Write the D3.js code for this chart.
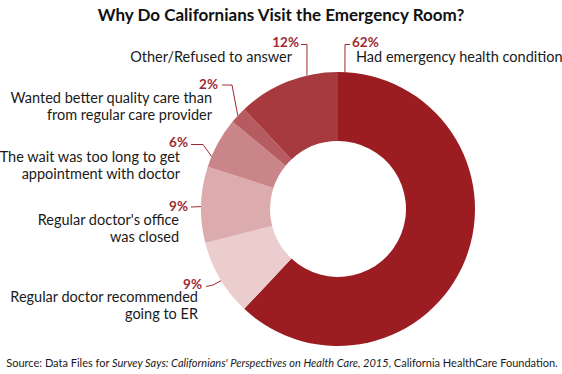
<!DOCTYPE html>
<html>
<head>
<meta charset="utf-8">
<script src="https://cdn.jsdelivr.net/npm/d3@7"></script>
<style>
  html, body { margin: 0; padding: 0; background: #fff; }
  svg text { font-family: Lato, "Open Sans", sans-serif; }
</style>
</head>
<body>
<svg id="chart" width="562" height="374"></svg>
<script>
// ---- data ----
const categories = [
  "Had emergency health condition",
  "Regular doctor recommended going to ER",
  "Regular doctor's office was closed",
  "The wait was too long to get appointment with doctor",
  "Wanted better quality care than from regular care provider",
  "Other/Refused to answer"
];
const values = [62, 9, 9, 6, 2, 12];
const labelLines = [
  ["Had emergency health condition"],
  ["Regular doctor recommended", "going to ER"],
  ["Regular doctor's office", "was closed"],
  ["The wait was too long to get", "appointment with doctor"],
  ["Wanted better quality care than", "from regular care provider"],
  ["Other/Refused to answer"]
];
const colors = ["#9b1c21", "#ebcdce", "#dcabad", "#c98588", "#b65b5f", "#a63a3f"];

// ---- layout (annotation placement) ----
const cx = 338, cy = 209, rOuter = 137, rInner = 68;
const layout = [
  { pct: [352, 47, "start"], lead: [[350, 44.5], [345, 44.5]], angle: 2.9, lab: [356, 62, "start"] },
  { pct: [202, 289, "end"], lead: [[206, 286.5], [213, 285]], angle: 238.5, lab: [198, 302, "end"] },
  { pct: [188, 211, "end"], lead: [[191, 207]], angle: 271, lab: [179, 225, "end"] },
  { pct: [188, 147, "end"], lead: [[191, 144.5], [203, 144.5]], angle: 292.6, lab: [180, 162, "end"] },
  { pct: [218, 89, "end"], lead: [[222, 85], [232, 85]], angle: 313, lab: [212, 103, "end"] },
  { pct: [299, 47, "end"], lead: [[301, 44.5], [307, 44.5]], angle: 346.9, lab: [292, 62, "end"] }
];

const svg = d3.select("#chart");

svg.append("text")
  .attr("x", 281).attr("y", 21)
  .attr("text-anchor", "middle")
  .attr("font-size", 17).attr("font-weight", 700)
  .attr("fill", "#111")
  .text("Why Do Californians Visit the Emergency Room?");

const pie = d3.pie().sort(null).value(d => d).startAngle(0).endAngle(2 * Math.PI);
const arc = d3.arc().innerRadius(rInner).outerRadius(rOuter);
const arcs = pie(values);

const g = svg.append("g").attr("transform", `translate(${cx},${cy})`);
g.selectAll("path.slice").data(arcs).enter().append("path")
  .attr("class", "slice")
  .attr("d", arc)
  .attr("fill", (d, i) => colors[i]);

const leaderColor = "#9e2a30";
arcs.forEach((a, i) => {
  const L = layout[i];
  const th = L.angle * Math.PI / 180;
  const end = [cx + rOuter * Math.sin(th), cy - rOuter * Math.cos(th)];
  const pts = L.lead.concat([end]);
  svg.append("path")
    .attr("d", d3.line()(pts))
    .attr("fill", "none")
    .attr("stroke", leaderColor)
    .attr("stroke-width", 1);
  svg.append("text")
    .attr("x", L.pct[0]).attr("y", L.pct[1])
    .attr("text-anchor", L.pct[2])
    .attr("font-size", 13.5).attr("font-weight", 700)
    .attr("fill", leaderColor)
    .text(values[i] + "%");
  const t = svg.append("text")
    .attr("x", L.lab[0]).attr("y", L.lab[1])
    .attr("text-anchor", L.lab[2])
    .attr("font-size", 14.5)
    .attr("fill", "#1a1a1a");
  labelLines[i].forEach((ln, j) => {
    t.append("tspan").attr("x", L.lab[0]).attr("dy", j === 0 ? 0 : 16.8).text(ln);
  });
});

const src = svg.append("text")
  .attr("x", 282).attr("y", 367)
  .attr("text-anchor", "middle")
  .attr("font-size", 11)
  .attr("fill", "#1a1a1a");
src.append("tspan").text("Source: Data Files for ");
src.append("tspan").attr("font-style", "italic").text("Survey Says: Californians' Perspectives on Health Care, 2015");
src.append("tspan").text(", California HealthCare Foundation.");
</script>
</body>
</html>
